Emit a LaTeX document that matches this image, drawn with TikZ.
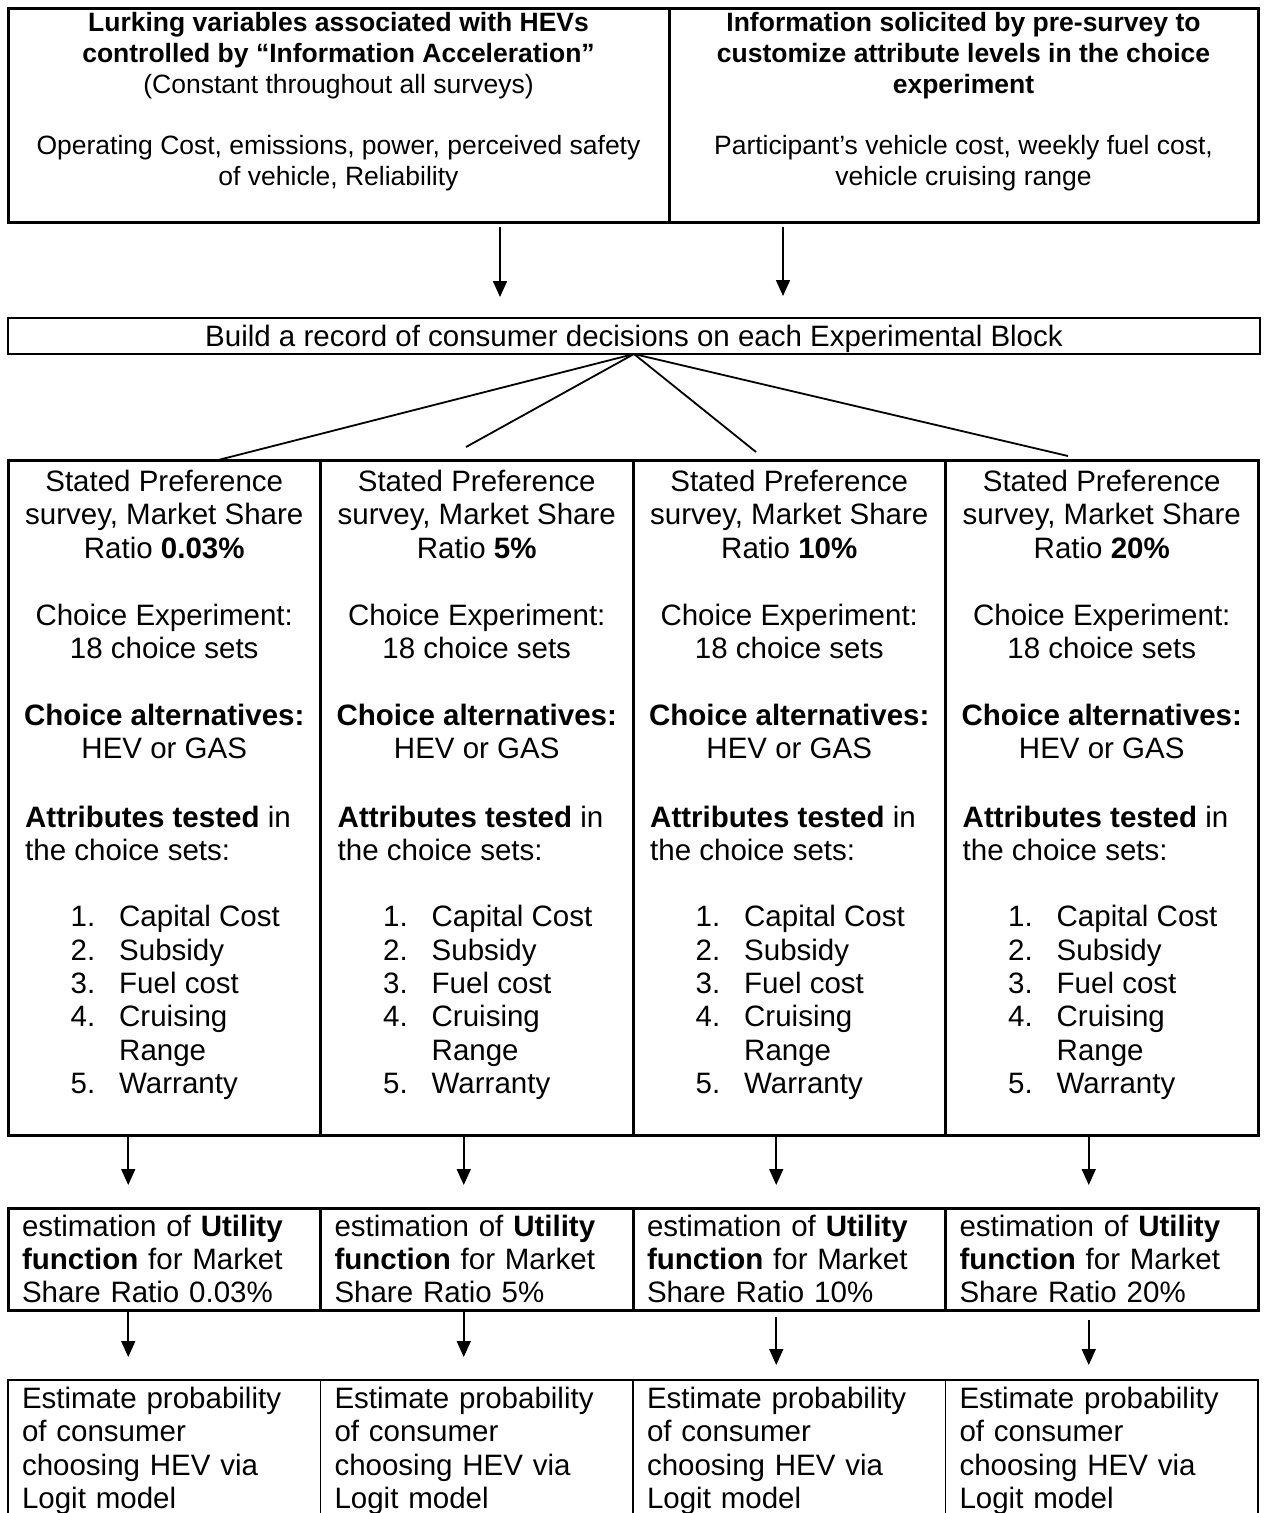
\documentclass[tikz,border=0pt]{standalone}
\usepackage{fontspec}
\setmainfont{Liberation Sans}
\usepackage{tikz}
\usetikzlibrary{arrows.meta, positioning}
\newcommand{\bxfont}{\fontsize{29.5pt}{33.4pt}\selectfont}
\newcommand{\tpfont}{\fontsize{26.5pt}{30.7pt}\selectfont}
\tikzstyle{every node}=[font=\bxfont]
\tikzstyle{box}=[draw,rectangle,line width=3pt,inner sep=0pt,outer sep=0pt]
\tikzstyle{toptext}=[font=\tpfont,align=center,inner sep=0pt]
\tikzstyle{txt}=[inner sep=0pt]
\tikzstyle{arr}=[->,line width=1.6pt]
\tikzstyle{fanline}=[line width=1.8pt]

\begin{document}
\begin{tikzpicture}[x=1pt,y=-1pt,>={Triangle[length=16pt,width=14pt]}]
    \path[use as bounding box,fill=white] (0,0) rectangle (1264,1513);
    \clip (0,0) rectangle (1264,1513);
    % top boxes
    \node[box, minimum width=661pt, minimum height=214pt] (lurk) at (338.5,115) {};
    \node[box, minimum width=589pt, minimum height=214pt, right=0pt of lurk] (info) {};
    \node[toptext, anchor=north] (lurkhead) at ([yshift=-4.5pt]lurk.north)
        {\textbf{Lurking variables associated with HEVs}\\\textbf{controlled by “Information Acceleration”}\\(Constant throughout all surveys)};
    \node[toptext, anchor=north] (lurkbody) at ([yshift=-127.5pt]lurk.north)
        {Operating Cost, emissions, power, perceived safety\\of vehicle, Reliability};
    \node[toptext, anchor=north] (infohead) at ([yshift=-4.5pt]info.north)
        {\textbf{Information solicited by pre-survey to}\\\textbf{customize attribute levels in the choice}\\\textbf{experiment}};
    \node[toptext, anchor=north] (infobody) at ([yshift=-127.5pt]info.north)
        {Participant’s vehicle cost, weekly fuel cost,\\vehicle cruising range};
    % record
    \node[box, line width=2.8pt, minimum width=1252pt, minimum height=36pt, text depth=0pt] (build) at (634,336)
        {Build a record of consumer decisions on each Experimental Block};
    \coordinate (in1) at ([xshift=161.5pt]lurk.south);
    \coordinate (in2) at ([xshift=-180.5pt]info.south);
    \draw[arr, shorten <=5pt, shorten >=21pt] (in1) -- (in1 |- build.north);
    \draw[arr, shorten <=5pt, shorten >=22pt] (in2) -- (in2 |- build.north);
    % the four surveys
    \foreach \i/\r in {1/0.03\%,2/5\%,3/10\%,4/20\%} {
        \node[box, minimum width=312.5pt, minimum height=675pt] (sv\i) at ({8+312.5*(\i-.5)},797.5) {};
        \node[txt, align=center, anchor=north] (sv\i-head) at ([yshift=-10pt]sv\i.north)
            {Stated Preference\\survey, Market Share\\Ratio \textbf{\r}};
        \node[txt, align=center, anchor=north] (sv\i-exp) at ([yshift=-144pt]sv\i.north)
            {Choice Experiment:\\18 choice sets};
        \node[txt, align=center, anchor=north] (sv\i-alt) at ([yshift=-244pt]sv\i.north)
            {\textbf{Choice alternatives:}\\HEV or GAS};
        \node[txt, align=left, anchor=north west] (sv\i-att) at ([xshift=17pt,yshift=-346pt]sv\i.north west)
            {\textbf{Attributes tested} in\\the choice sets:};
        \node[txt, anchor=north west] (sv\i-list) at ([xshift=62.4pt,yshift=-443.1pt]sv\i.north west)
            {\begin{tabular}{@{}r@{\hspace{24pt}}l@{}}
             1. & Capital Cost\\ 2. & Subsidy\\ 3. & Fuel cost\\ 4. & Cruising\\ & Range\\ 5. & Warranty
             \end{tabular}};
        \node[box, below=73pt of sv\i, text width=284.5pt, inner xsep=14pt, minimum height=102pt, align=left] (ut\i)
            {estimation of \textbf{Utility}\\\textbf{function} for Market\\Share Ratio \r};
        \node[box, line width=1.5pt, below=70pt of ut\i, text width=284.5pt, inner xsep=14pt, minimum height=142pt, align=left] (lg\i)
            {Estimate probability\\of consumer\\choosing HEV via\\Logit model};
    }
    % fan out of the record box
    \coordinate (fan1) at ([xshift=54pt]sv1.north);
    \coordinate (fan2) at (466,447);
    \coordinate (fan3) at (756,452);
    \coordinate (fan4) at (1068,456);
    \foreach \c in {fan1,fan2,fan3,fan4}
        \draw[fanline] (build.south) -- (\c);
    % arrows down
    \foreach \i/\dx/\ds/\dt in {1/-36/0/23,2/-13/0/23,3/-13/7/15,4/-13/10/15} {
        \draw[arr, shorten >=23pt] ([xshift=\dx pt]sv\i.south) -- ([xshift=\dx pt]ut\i.north);
        \draw[arr, shorten <=\ds pt, shorten >=\dt pt] ([xshift=\dx pt]ut\i.south) -- ([xshift=\dx pt]lg\i.north);
    }
\end{tikzpicture}
\end{document}
